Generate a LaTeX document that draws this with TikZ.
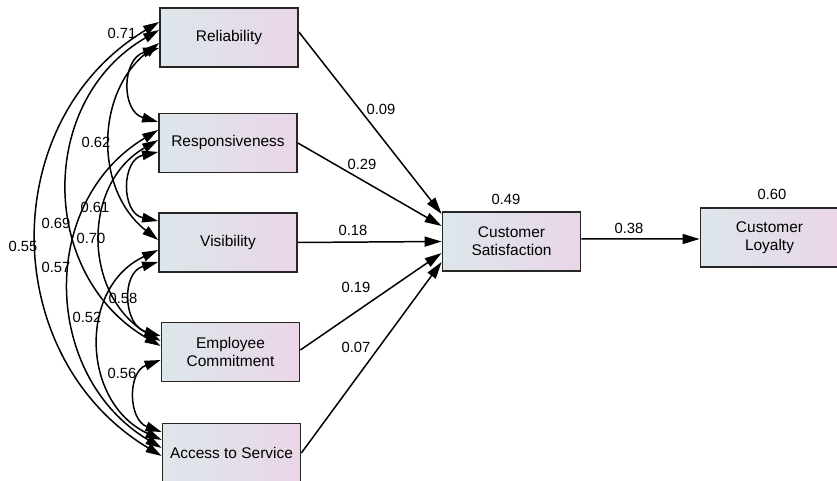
\documentclass[tikz,border=0pt]{standalone}
\usepackage{fontspec}
\setmainfont{Liberation Sans}
\definecolor{boxleft}{RGB}{221, 230, 235}
\definecolor{boxright}{RGB}{234, 214, 231}
\usepackage{tikz}
\usetikzlibrary{arrows.meta}

\begin{document}
\begin{tikzpicture}[
        var/.style={draw=black!85, line width=1pt, minimum width=2.76cm, minimum height=1.18cm, align=center, font=\fontsize{8.8}{10.4}\selectfont, left color=boxleft, right color=boxright},
        est/.style={inner sep=0pt, font=\fontsize{8.4}{10}\selectfont},
        path/.style={line width=0.85pt, -{Triangle[length=0.34cm, width=0.2cm]}},
        cov/.style={line width=0.85pt, {Triangle[length=0.32cm, width=0.19cm]}-{Triangle[length=0.32cm, width=0.19cm]}},
      ]
      \useasboundingbox (0, 0) rectangle (16.74, 9.62);

      % observed variables
      \node[var] (rel) at (4.58, 8.87) {Reliability};
      \node[var] (resp) at (4.56, 6.76) {Responsiveness};
      \node[var] (vis) at (4.56, 4.77) {Visibility};
      \node[var] (emp) at (4.61, 2.58) {Employee\\Commitment};
      \node[var] (acc) at (4.63, 0.56) {Access to Service};
      \node[var] (sat) at (10.23, 4.79) {Customer\\Satisfaction};
      \node[var] (loy) at (15.39, 4.87) {Customer\\Loyalty};

      % covariances
      \draw[cov] ([yshift=-0.21cm]rel.west) to[out=196, in=164, looseness=1.34] ([yshift=0.42cm]resp.west);
      \draw[cov] ([yshift=-0.11cm]rel.west) to[out=218, in=142, looseness=1.05] ([yshift=0.05cm]vis.west);
      \draw[cov] ([yshift=0.15cm]rel.west) to[out=210, in=150, looseness=1.14] ([yshift=0.12cm]emp.west);
      \draw[cov] ([yshift=0.31cm]rel.west) to[out=211, in=149, looseness=1.125] ([yshift=-0.06cm]acc.west);
      \draw[cov] ([yshift=-0.18cm]resp.west) to[out=192, in=168, looseness=1.41] ([yshift=0.43cm]vis.west);
      \draw[cov] ([yshift=0.06cm]resp.west) to[out=210, in=150, looseness=1.135] ([yshift=0.22cm]emp.west);
      \draw[cov] ([yshift=0.26cm]resp.west) to[out=211, in=149, looseness=1.125] ([yshift=0.10cm]acc.west);
      \draw[cov] ([yshift=-0.39cm]vis.west) to[out=196, in=164, looseness=1.34] ([yshift=0.32cm]emp.west);
      \draw[cov] ([yshift=-0.15cm]vis.west) to[out=205, in=155, looseness=1.19] ([yshift=0.26cm]acc.west);
      \draw[cov] ([yshift=-0.16cm]emp.west) to[out=200, in=160, looseness=1.26] ([yshift=0.42cm]acc.west);

      \node[est] (c-rel-resp) at (2.44, 8.96) {0.71};
      \node[est] (c-rel-vis) at (1.92, 6.78) {0.62};
      \node[est] (c-resp-vis) at (1.90, 5.48) {0.61};
      \node[est] (c-rel-emp) at (1.12, 5.16) {0.69};
      \node[est] (c-resp-emp) at (1.82, 4.86) {0.70};
      \node[est] (c-rel-acc) at (0.46, 4.70) {0.55};
      \node[est] (c-resp-acc) at (1.12, 4.28) {0.57};
      \node[est] (c-vis-emp) at (2.46, 3.66) {0.58};
      \node[est] (c-vis-acc) at (1.74, 3.28) {0.52};
      \node[est] (c-emp-acc) at (2.44, 2.16) {0.56};

      % regression paths
      \draw[path] ([yshift=0.11cm]rel.east) -- ([yshift=0.55cm]sat.west);
      \draw[path] (resp.east) -- ([yshift=0.31cm]sat.west);
      \draw[path] (vis.east) -- (sat.west);
      \draw[path] ([yshift=0.04cm]emp.east) -- ([yshift=-0.23cm]sat.west);
      \draw[path] (acc.east) -- ([yshift=-0.41cm]sat.west);
      \draw[path] ([yshift=0.05cm]sat.east) -- ([yshift=-0.03cm]loy.west);

      \node[est] (p-rel) at (7.62, 7.44) {0.09};
      \node[est] (p-resp) at (7.24, 6.34) {0.29};
      \node[est] (p-vis) at (7.06, 5.02) {0.18};
      \node[est] (p-emp) at (7.12, 3.88) {0.19};
      \node[est] (p-acc) at (7.12, 2.68) {0.07};
      \node[est] (p-sat) at (12.58, 5.06) {0.38};

      % squared multiple correlations
      \node[est] (r-sat) at (10.12, 5.64) {0.49};
      \node[est] (r-loy) at (15.44, 5.74) {0.60};
      \end{tikzpicture}
\end{document}
